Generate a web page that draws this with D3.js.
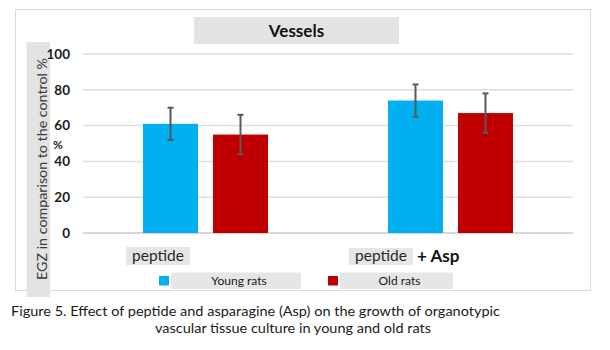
<!DOCTYPE html>
<html>
<head>
<meta charset="utf-8">
<script src="https://cdn.jsdelivr.net/npm/d3@7"></script>
<style>
  body { margin: 0; background: #fff; }
  svg { display: block; font-family: Lato, "Open Sans", sans-serif; }
</style>
</head>
<body>
<script>
// data
const categories = ["peptide", "peptide + Asp"];
const seriesNames = ["Young rats", "Old rats"];
const youngValues = [61, 74];
const oldValues = [55, 67];
const youngErrors = [9, 9];
const oldErrors = [11, 11];
const yTicks = [0, 20, 40, 60, 80, 100];
const colors = ["#00b0f0", "#c00000"];

const width = 610, height = 350;
const plot = { left: 83, right: 573, top: 54, bottom: 233 };

const rows = categories.map((c, i) => ({
    cat: c,
    bars: [
        { key: seriesNames[0], value: youngValues[i], err: youngErrors[i] },
        { key: seriesNames[1], value: oldValues[i], err: oldErrors[i] }
    ]
}));

const svg = d3.select("body").append("svg")
    .attr("width", width)
    .attr("height", height);

// outer chart frame
svg.append("rect")
    .attr("x", 15.5).attr("y", 9.5)
    .attr("width", 575).attr("height", 281)
    .attr("fill", "none")
    .attr("stroke", "#d9d9d9");

var x0 = d3.scaleBand()
    .domain(categories)
    .range([plot.left, plot.right]);
var x1 = d3.scaleBand()
    .domain(seriesNames)
    .range([0, x0.bandwidth()])
    .paddingInner(0.214)
    .paddingOuter(0.857);
var y = d3.scaleLinear()
    .domain([0, 100])
    .range([plot.bottom, plot.top]);

// gridlines
svg.append("g")
    .selectAll("line")
    .data(yTicks)
    .enter()
    .append("line")
    .attr("x1", plot.left)
    .attr("x2", plot.right)
    .attr("y1", d => y(d))
    .attr("y2", d => y(d))
    .attr("stroke", d => d === 0 ? "#c8c8c8" : "#dedede")
    .attr("stroke-width", 1.5);

// y axis label box
svg.append("rect")
    .attr("x", 26.5).attr("y", 42)
    .attr("width", 23.5).attr("height", 255)
    .attr("fill", "#e3e3e3");
svg.append("text")
    .attr("transform", "translate(47," + 169 + ") rotate(-90)")
    .attr("text-anchor", "middle")
    .attr("font-size", 14)
    .attr("fill", "#3a3a3a")
    .attr("textLength", 222)
    .attr("lengthAdjust", "spacingAndGlyphs")
    .text("EGZ in comparison to the control %");

// tick labels
var yAxis = d3.axisLeft(y)
    .tickValues(yTicks)
    .tickSize(0)
    .tickPadding(0);
var yg = svg.append("g")
    .attr("transform", "translate(70,0)")
    .call(yAxis);
yg.select(".domain").remove();
yg.selectAll("text")
    .attr("font-family", "Lato, sans-serif")
    .attr("font-size", 13.5)
    .attr("font-weight", "bold")
    .attr("fill", "#1a1a1a");

// stray % sign just above the 40 tick
svg.append("text")
    .attr("x", 53).attr("y", y(40) - 12)
    .attr("font-size", 12)
    .attr("font-weight", "bold")
    .attr("fill", "#1a1a1a")
    .text("%");

// title
svg.append("rect")
    .attr("x", 194).attr("y", 17)
    .attr("width", 205).attr("height", 27)
    .attr("fill", "#e3e3e3");
svg.append("text")
    .attr("x", 296.5).attr("y", 37)
    .attr("text-anchor", "middle")
    .attr("font-size", 17)
    .attr("font-weight", "bold")
    .attr("fill", "#111")
    .text("Vessels");

// bars
var groups = svg.selectAll(".group")
    .data(rows)
    .enter()
    .append("g")
    .attr("class", "group")
    .attr("transform", d => "translate(" + x0(d.cat) + ",0)");

groups.selectAll("rect")
    .data(d => d.bars)
    .enter()
    .append("rect")
    .attr("x", d => x1(d.key))
    .attr("y", d => y(d.value))
    .attr("width", x1.bandwidth())
    .attr("height", d => y(0) - y(d.value))
    .attr("fill", (d, i) => colors[i]);

// error bars
var errs = groups.selectAll(".err")
    .data(d => d.bars)
    .enter()
    .append("g")
    .attr("class", "err")
    .attr("stroke", "#595959")
    .attr("stroke-width", 2);
errs.append("line")
    .attr("x1", d => x1(d.key) + x1.bandwidth() / 2)
    .attr("x2", d => x1(d.key) + x1.bandwidth() / 2)
    .attr("y1", d => y(d.value + d.err))
    .attr("y2", d => y(d.value - d.err));
errs.selectAll(".cap")
    .data(d => [d.value + d.err, d.value - d.err].map(v => ({ v: v, cx: x1(d.key) + x1.bandwidth() / 2 })))
    .enter()
    .append("line")
    .attr("class", "cap")
    .attr("x1", d => d.cx - 3)
    .attr("x2", d => d.cx + 3)
    .attr("y1", d => y(d.v))
    .attr("y2", d => y(d.v));

// category labels (grey boxes, second one with bold "+ Asp")
const labelOffset = [43, 21];
categories.forEach(function(c, i) {
    var lx = x0(c) + labelOffset[i];
    svg.append("rect")
        .attr("x", lx).attr("y", 247 + i)
        .attr("width", 64).attr("height", 18 - i)
        .attr("fill", "#e6e6e6");
    svg.append("text")
        .attr("x", lx + 32).attr("y", 261)
        .attr("text-anchor", "middle")
        .attr("font-size", 15.5)
        .attr("fill", "#262626")
        .text(c.split(" + ")[0]);
    if (c.indexOf("+") > -1) {
        svg.append("text")
            .attr("x", lx + 68).attr("y", 262)
            .attr("font-size", 17)
            .attr("font-weight", "bold")
            .attr("fill", "#111")
            .text("+ " + c.split(" + ")[1]);
    }
});

// legend
const legendX = [159, 328];
const legendBoxW = [130, 113];
seriesNames.forEach(function(s, i) {
    svg.append("rect")
        .attr("x", legendX[i]).attr("y", 276)
        .attr("width", 10).attr("height", 9.5)
        .attr("fill", colors[i]);
    svg.append("rect")
        .attr("x", legendX[i] + 12).attr("y", 272.5)
        .attr("width", legendBoxW[i]).attr("height", 16.5)
        .attr("fill", "#e6e6e6");
    svg.append("text")
        .attr("x", legendX[i] + 12 + legendBoxW[i] / 2 + 3).attr("y", 285)
        .attr("text-anchor", "middle")
        .attr("font-size", 12)
        .attr("fill", "#1a1a1a")
        .text(s);
});

// caption
svg.append("text")
    .attr("x", 11).attr("y", 316)
    .attr("font-size", 14)
    .attr("fill", "#1a1a1a")
    .attr("textLength", 489)
    .attr("lengthAdjust", "spacingAndGlyphs")
    .text("Figure 5. Effect of peptide and asparagine (Asp) on the growth of organotypic");
svg.append("text")
    .attr("x", 155).attr("y", 333)
    .attr("font-size", 14)
    .attr("fill", "#1a1a1a")
    .attr("textLength", 276)
    .attr("lengthAdjust", "spacingAndGlyphs")
    .text("vascular tissue culture in young and old rats");
</script>
</body>
</html>
